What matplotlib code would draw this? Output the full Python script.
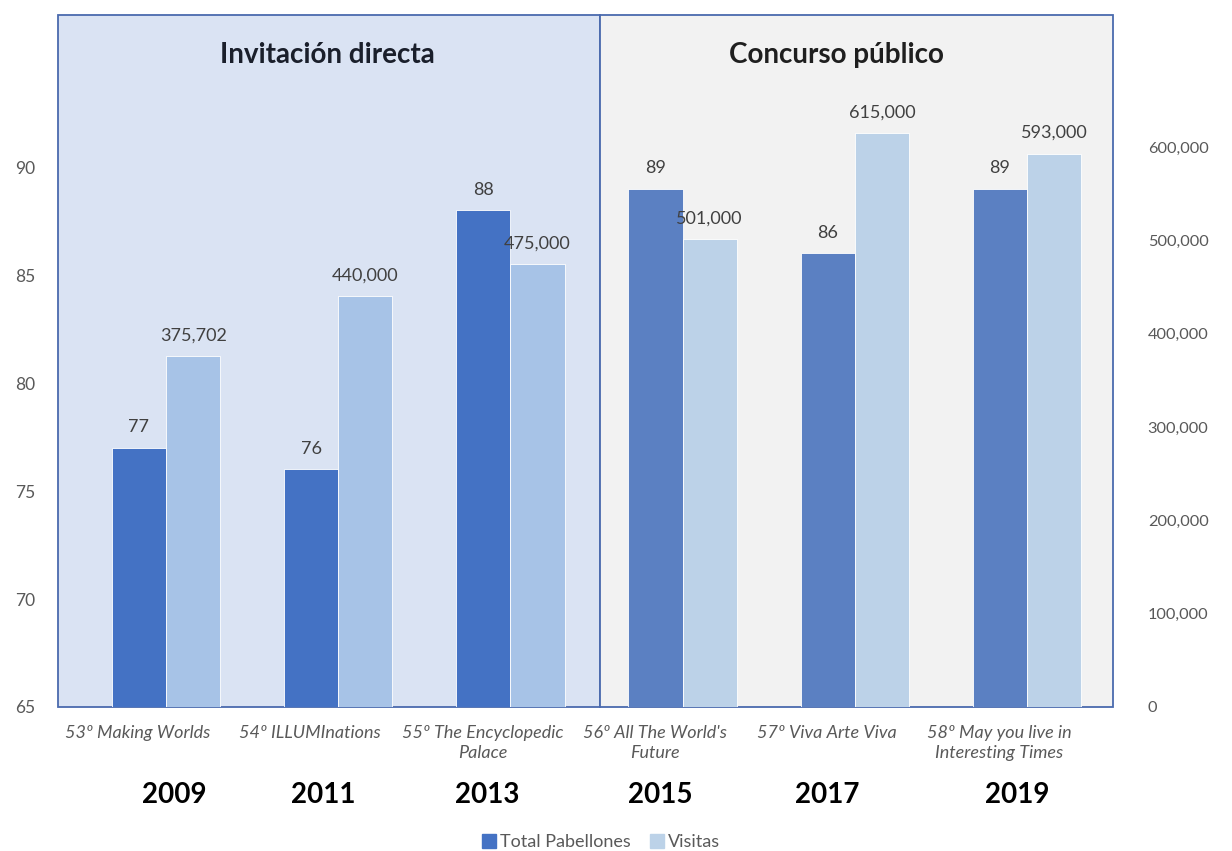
import matplotlib.pyplot as plt
from matplotlib.patches import Rectangle
from matplotlib.lines import Line2D
from matplotlib.transforms import ScaledTranslation
import numpy as np

# datos
editions = ["53º Making Worlds", "54º ILLUMInations", "55º The Encyclopedic\nPalace",
            "56º All The World's\nFuture", "57º Viva Arte Viva", "58º May you live in\nInteresting Times"]
years = ["2009", "2011", "2013", "2015", "2017", "2019"]
pabellones = [77, 76, 88, 89, 86, 89]
visitas = [375702, 440000, 475000, 501000, 615000, 593000]
groups = ["Invitación directa", "Concurso público"]

plt.rcParams['font.family'] = ['Lato', 'DejaVu Sans']

W, H = 1232, 851
fig = plt.figure(figsize=(W / 100, H / 100), dpi=100)

def fx(px):
    return px / W

def fy(py):
    return 1 - py / H

# fondo de los dos bloques
fig.add_artist(Rectangle((fx(58), fy(707)), fx(600) - fx(58), fy(15) - fy(707),
                         transform=fig.transFigure, facecolor="#DAE3F3", edgecolor="#4A6AAE",
                         linewidth=1.3, zorder=-2))
fig.add_artist(Rectangle((fx(600), fy(707)), fx(1113) - fx(600), fy(15) - fy(707),
                         transform=fig.transFigure, facecolor="#F2F2F2", edgecolor="#4A6AAE",
                         linewidth=1.3, zorder=-2))

ax = fig.add_axes([fx(80), fy(707), fx(1113) - fx(80), fy(15) - fy(707)])
ax.patch.set_alpha(0)
ax2 = ax.twinx()
ax2.patch.set_alpha(0)

x = np.arange(len(years))
w = 0.315
dark = ["#4472C4"] * 3 + ["#5B80C2"] * 3
light = ["#A7C3E7"] * 3 + ["#BCD2E8"] * 3

b1 = ax.bar(x - w / 2, pabellones, w, bottom=0, color=dark, edgecolor="white", linewidth=0.6)
b2 = ax2.bar(x + w / 2, visitas, w, color=light, edgecolor="white", linewidth=0.6)

ax.set_ylim(65, 97.04)
ax2.set_ylim(0, 741400)
ax.set_xlim(-0.5, 5.5)
ax.set_yticks([65, 70, 75, 80, 85, 90])
ax2.set_yticks([0, 100000, 200000, 300000, 400000, 500000, 600000])
ax2.set_yticklabels([f"{v:,.0f}" for v in ax2.get_yticks()])

ax.bar_label(b1, labels=[str(v) for v in pabellones], padding=9, fontsize=13, color="#404040")
ax2.bar_label(b2, labels=[f"{v:,.0f}" for v in visitas], padding=9, fontsize=13, color="#404040")

for a in (ax, ax2):
    for s in a.spines.values():
        s.set_visible(False)
ax.tick_params(axis="y", length=0, pad=32, labelsize=12.5, labelcolor="#595959")
ax2.tick_params(axis="y", length=0, pad=25, labelsize=11.8, labelcolor="#595959")

ax.set_xticks(x)
ax.set_xticklabels(editions, fontsize=13, style="italic", color="#595959", linespacing=1.3)
ax.tick_params(axis="x", length=0, pad=13)
# las etiquetas de edicion estan desplazadas a la izquierda en el original
shift = ScaledTranslation(-28 / 100, 0, fig.dpi_scale_trans)
for lbl in ax.get_xticklabels():
    lbl.set_transform(lbl.get_transform() + shift)

# años como cuadros de texto
year_px = [174, 323, 487, 660, 827, 1017]
for px, yr in zip(year_px, years):
    fig.text(fx(px), fy(795), yr, ha="center", va="center",
             fontsize=20, fontweight="bold", color="black")

fig.text(fx(327), fy(55), groups[0], ha="center", va="center", fontsize=20,
         fontweight="bold", color="#1A1F2B")
fig.text(fx(836), fy(55), groups[1], ha="center", va="center", fontsize=20,
         fontweight="bold", color="#1F1F1F")

handles = [Line2D([], [], marker="s", linestyle="", markersize=10, color="#4472C4"),
           Line2D([], [], marker="s", linestyle="", markersize=10, color="#BCD2E8")]
fig.legend(handles, ["Total Pabellones", "Visitas"], loc="center", bbox_to_anchor=(fx(600), fy(842)),
           ncol=2, frameon=False, fontsize=13, labelcolor="#595959", handletextpad=0.1,
           columnspacing=1.0, handlelength=1.0)

fig.savefig("out.png", dpi=100)
